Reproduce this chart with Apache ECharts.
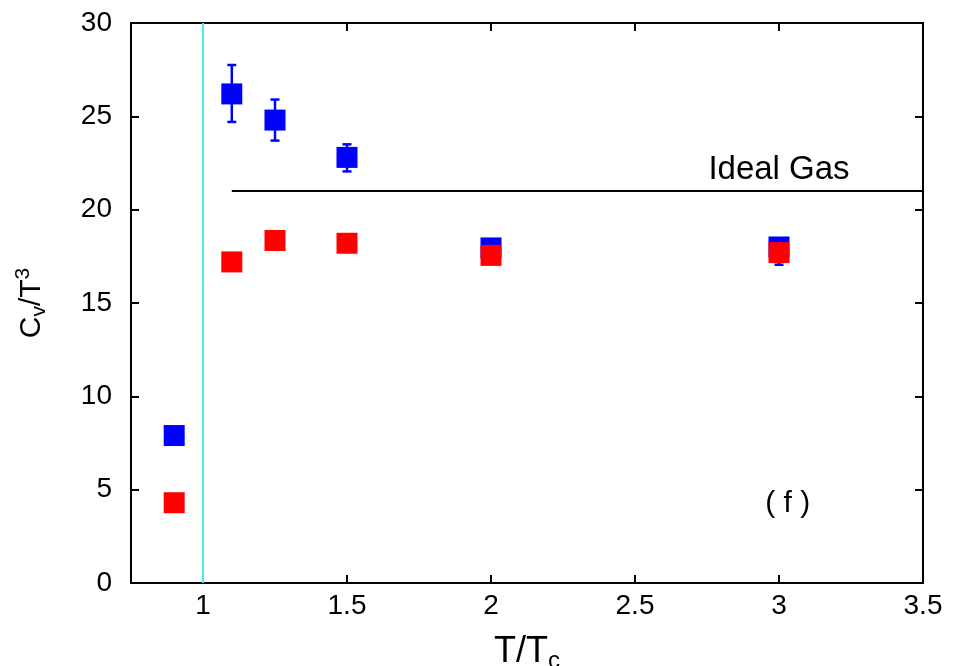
<!DOCTYPE html>
<html>
<head>
<meta charset="utf-8">
<script src="https://cdn.jsdelivr.net/npm/echarts@6/dist/echarts.min.js"></script>
<style>
  html, body { margin: 0; padding: 0; background: #fff; }
  #chart { width: 953px; height: 666px; }
</style>
</head>
<body>
<div id="chart"></div>
<script>
// Temperatures in units of T_c
const temps = [0.9, 1.1, 1.25, 1.5, 2, 3];
// Specific heat C_v/T^3, first estimator (with error bars)
const cvBlue = [7.9, 26.2, 24.8, 22.8, 17.95, 18.0];
const cvBlueLow = [7.75, 24.7, 23.7, 22.05, 17.7, 17.05];
const cvBlueHigh = [8.1, 27.75, 25.9, 23.5, 18.15, 18.25];
// Specific heat C_v/T^3, second estimator
const cvRed = [4.3, 17.2, 18.35, 18.2, 17.55, 17.7];
// Ideal gas (Stefan-Boltzmann) limit
const idealGasX = [1.1, 3.5];
const idealGasValue = 21.0;
// Critical temperature marker
const tcLine = 1.0;
// Tick labels
const xTicks = [1, 1.5, 2, 2.5, 3, 3.5];
const yTicks = [0, 5, 10, 15, 20, 25, 30];

const FONT = '"Liberation Sans", Arial, Helvetica, sans-serif';
const TICK_FONT = '"Liberation Sans", Arial, Helvetica, sans-serif';

const chart = echarts.init(document.getElementById('chart'), null, { renderer: 'canvas' });

const blueData = temps.map((t, i) => [t, cvBlue[i]]);
const redData = temps.map((t, i) => [t, cvRed[i]]);
const errData = temps.map((t, i) => [t, cvBlueLow[i], cvBlueHigh[i]]);

const axisLineStyle = { color: '#000', width: 2 };
const tickStyle = { color: '#000', width: 2 };

function frameX(position, withLabels) {
  const ax = {
    type: 'value', min: 0.75, max: 3.5, interval: 0.25,
    position: position,
    splitLine: { show: false },
    axisLine: { show: true, onZero: false, lineStyle: axisLineStyle },
    axisTick: { show: true, inside: true, length: 8, lineStyle: tickStyle, customValues: xTicks },
    axisLabel: { show: false }
  };
  if (withLabels) {
    ax.axisLabel = {
      show: true, customValues: xTicks,
      fontFamily: TICK_FONT, fontSize: 28, color: '#000', margin: 9
    };
  }
  return ax;
}

function frameY(position, withLabels) {
  const ax = {
    type: 'value', min: 0, max: 30, interval: 5,
    position: position,
    splitLine: { show: false },
    axisLine: { show: true, onZero: false, lineStyle: axisLineStyle },
    axisTick: { show: true, inside: true, length: 8, lineStyle: tickStyle },
    axisLabel: { show: false }
  };
  if (withLabels) {
    ax.axisLabel = {
      show: true, customValues: yTicks,
      fontFamily: TICK_FONT, fontSize: 28, color: '#000', margin: 19
    };
  }
  return ax;
}

const xBottom = frameX('bottom', true);
xBottom.name = '{m|T/T}{s|c}';
xBottom.nameLocation = 'middle';
xBottom.nameGap = 47;
xBottom.nameTextStyle = {
  fontFamily: FONT, color: '#000',
  rich: {
    m: { fontFamily: FONT, fontSize: 36, color: '#000', lineHeight: 44 },
    s: { fontFamily: FONT, fontSize: 24, color: '#000', lineHeight: 24, padding: [19, 0, 1, 0] }
  }
};

const yLeft = frameY('left', true);
yLeft.name = '{m|C}{s|v}{m|/T}{p|3}';
yLeft.nameLocation = 'middle';
yLeft.nameGap = 79;
yLeft.nameRotate = 90;
yLeft.nameTextStyle = {
  fontFamily: FONT, color: '#000',
  rich: {
    m: { fontFamily: FONT, fontSize: 30, color: '#000', lineHeight: 40 },
    s: { fontFamily: FONT, fontSize: 21, color: '#000', lineHeight: 22, padding: [16, 0, 2, 0] },
    p: { fontFamily: FONT, fontSize: 21, color: '#000', lineHeight: 22, padding: [0, 0, 18, 0] }
  }
};

const option = {
  backgroundColor: '#fff',
  animation: false,
  grid: { left: 131, right: 30, top: 23, bottom: 83, containLabel: false, outerBoundsMode: 'none' },
  xAxis: [xBottom, frameX('top', false)],
  yAxis: [yLeft, frameY('right', false)],
  series: [
    {
      // critical temperature marker
      type: 'line', data: [], silent: true,
      markLine: {
        silent: true, symbol: 'none', animation: false,
        lineStyle: { color: '#4ce8e8', width: 2, type: 'solid' },
        label: { show: false },
        data: [{ xAxis: tcLine }]
      }
    },
    {
      name: 'Ideal Gas',
      type: 'line', symbol: 'none',
      lineStyle: { color: '#000', width: 2 },
      data: idealGasX.map(x => [x, idealGasValue]),
      markPoint: {
        symbolSize: 0,
        label: { show: true, position: 'inside', fontFamily: FONT, fontSize: 33, color: '#000',
          formatter: 'Ideal Gas' },
        data: [{ coord: [3.0, 22.12] }]
      },
      z: 2
    },
    {
      name: 'errors',
      type: 'custom',
      data: errData,
      renderItem: function (params, api) {
        const x = api.value(0);
        const lo = api.coord([x, api.value(1)]);
        const hi = api.coord([x, api.value(2)]);
        const cap = 4.5;
        const style = { stroke: '#0000ff', lineWidth: 2.5, fill: null };
        return {
          type: 'group',
          children: [
            { type: 'line', shape: { x1: lo[0], y1: lo[1], x2: hi[0], y2: hi[1] }, style: style },
            { type: 'line', shape: { x1: lo[0] - cap, y1: lo[1], x2: lo[0] + cap, y2: lo[1] }, style: style },
            { type: 'line', shape: { x1: hi[0] - cap, y1: hi[1], x2: hi[0] + cap, y2: hi[1] }, style: style }
          ]
        };
      },
      z: 3
    },
    {
      name: 'blue',
      type: 'scatter', symbol: 'rect', symbolSize: 21,
      itemStyle: { color: '#0000ff', opacity: 1 },
      data: blueData, z: 4
    },
    {
      name: 'red',
      type: 'scatter', symbol: 'rect', symbolSize: 21,
      itemStyle: { color: '#ff0000', opacity: 1 },
      data: redData, z: 5,
      markPoint: {
        symbolSize: 0,
        label: { show: true, position: 'inside', fontFamily: FONT, fontSize: 30, color: '#000',
          formatter: '( f )' },
        data: [{ coord: [3.03, 4.23] }]
      }
    }
  ]
};

chart.setOption(option);
</script>
</body>
</html>
